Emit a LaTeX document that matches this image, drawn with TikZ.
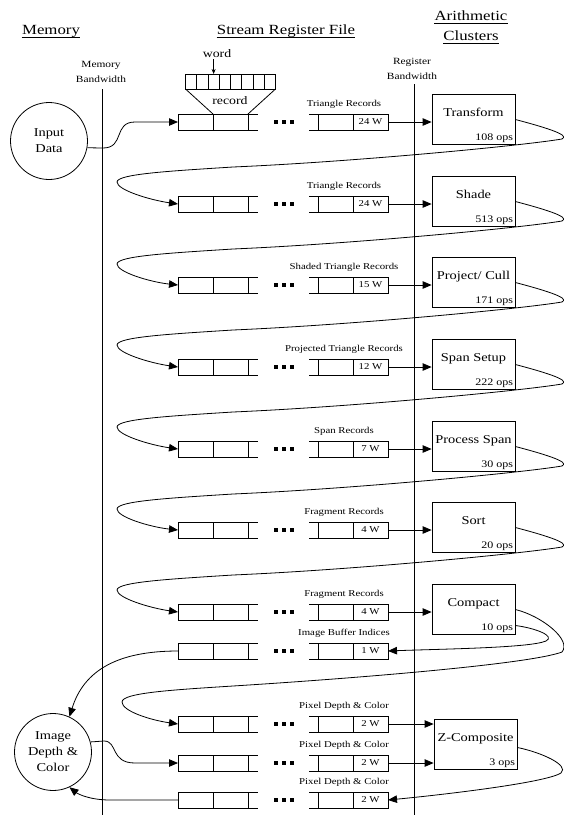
\documentclass[tikz,border=0pt]{standalone}
\usepackage{fontspec}
\setmainfont{Liberation Serif}[FakeStretch=1.2]
\usetikzlibrary{arrows.meta, positioning, calc}

\begin{document}
\begin{tikzpicture}[x=1pt, y=-1pt, line width=0.8pt,
          head/.style={font=\fontsize{14}{16}\selectfont, inner sep=0pt, anchor=base},
          bwlabel/.style={font=\fontsize{9.5}{15}\selectfont, align=center, inner sep=0pt},
          cell/.style={draw, minimum width=35pt, minimum height=16pt, inner sep=0pt, outer sep=0pt,
                       font=\fontsize{9}{10}\selectfont},
          wordcell/.style={draw, minimum width=11.25pt, minimum height=15pt, inner sep=0pt, outer sep=0pt},
          qlabel/.style={font=\fontsize{9}{10}\selectfont, inner sep=0pt},
          unit/.style={draw, minimum width=83pt, minimum height=50pt, inner sep=0pt, text depth=14pt,
                       font=\fontsize{12}{14}\selectfont},
          ops/.style={anchor=south east, inner sep=2pt, font=\fontsize{10}{12}\selectfont},
          store/.style={draw, circle, minimum size=77pt, inner sep=0pt, align=center,
                        font=\fontsize{12}{16}\selectfont},
          arr/.style={-{Triangle[length=9pt, width=7.5pt]}},
        ]
        \useasboundingbox (0,0) rectangle (563,815);

        % headings
        \node[head] (hmem)  at (51,34)  {Memory};
        \node[head] (hsrf)  at (286,34) {Stream Register File};
        \node[head] (harit) at (471,20) {Arithmetic};
        \node[head] (hclus) at (471,40) {Clusters};
        \foreach \h in {hmem, hsrf, harit, hclus}
          \draw[line width=0.7pt] ([yshift=-3pt]\h.base west) -- ([yshift=-3pt]\h.base east);

        % bandwidth dividers
        \node[bwlabel] (mbw) at (101,72) {Memory\\Bandwidth};
        \node[bwlabel] (rbw) at (412,69) {Register\\Bandwidth};
        \coordinate (mtop) at (102,89);  \coordinate (mbot) at (102,815);
        \coordinate (rtop) at (414,84);  \coordinate (rbot) at (414,815);
        \draw (mtop) -- (mbot);
        \draw (rtop) -- (rbot);

        % stream buffers
        \foreach \y/\lab/\w [count=\i] in {122/Triangle Records/24, 204/Triangle Records/24,
            285/Shaded Triangle Records/15, 367/Projected Triangle Records/12, 449/Span Records/7,
            530/Fragment Records/4, 612/Fragment Records/4, 651/Image Buffer Indices/1,
            724/Pixel Depth \& Color/2, 763/Pixel Depth \& Color/2, 800/Pixel Depth \& Color/2} {
          \node[cell] (qa\i) at (195.5,\y) {};
          \node[cell, right=0pt of qa\i] (qb\i) {};
          \node[cell] (qc\i) at (335.5,\y) {};
          \node[cell, right=0pt of qc\i] (qd\i) {\w\ W};
          \node[qlabel] (ql\i) at (344,\y-18) {\lab};
          \draw (qb\i.north east) -- ++(10,0) (qb\i.south east) -- ++(10,0);
          \draw (qc\i.north west) -- ++(-9,0) (qc\i.south west) -- ++(-9,0);
          \foreach \dx in {-8,0,8}
            \fill (284+\dx-2.2,\y-2.2) rectangle ++(4.4,4.4);
        }

        % word / record
        \foreach \k in {1,...,8}
          \node[wordcell] (wc\k) at (185.5+11.25*\k-5.625,81.5) {};
        \draw (wc1.south west) -- (qb1.north west);
        \draw (wc8.south east) -- (qb1.north east);
        \node[font=\fontsize{11.5}{12}\selectfont] (reclbl) at (230,101) {record};
        \node[font=\fontsize{11.5}{12}\selectfont, inner sep=1pt] (wordlbl) at (217,54) {word};
        \draw[-{Stealth[length=5pt, width=4pt]}, line width=0.6pt] (wc3 |- wordlbl.south) -- (wc3.north);

        % arithmetic clusters
        \foreach \y/\name/\ops [count=\i] in {122/Transform/108, 204/Shade/513, 285/{Project/ Cull}/171,
            367/Span Setup/222, 449/Process Span/30, 530/Sort/20, 612/Compact/10} {
          \node[unit] (u\i) at (473.5,\y-2.5) {\name};
          \node[ops] (o\i) at (u\i.south east) {\ops\ ops};
          \draw[arr] (qd\i.east) -- (qd\i.east -| u\i.west);
        }
        \node[unit] (z) at (475.5,744.5) {Z-Composite};
        \node[ops] (oz) at (z.south east) {3 ops};
        \draw[arr] (qd9.east) -- (qd9.east -| z.west);
        \draw[arr] (qd10.east) -- (qd10.east -| z.west);

        % memory
        \node[store] (inp) at (49,141) {Input\\Data};
        \node[store] (img) at (53,752) {Image\\Depth \&\\Color};

        \draw[arr] (inp.-10) -- (103,148) .. controls (125,148) and (113,122) .. (135,122) -- (qa1.west);
        \draw[arr] (qa8.west) .. controls (118,651) and (84,670) .. (img.65);
        \draw[arr] (img.15) -- (104,741) .. controls (118,741) and (110,763) .. (135,763) -- (qa10.west);
        \draw[arr] (qa11.west) -- (110,800) .. controls (90,800) and (78,794) .. (img.-65);

        % kernel to kernel
        \foreach \i/\j/\y in {1/2/122, 2/3/204, 3/4/285, 4/5/367, 5/6/449, 6/7/530}
          \draw[arr] (u\i.east) .. controls (540,\y+4) and (572,\y+13) .. (562,\y+17)
                .. controls (520,\y+24) and (350,\y+40) .. (233,\y+45)
                .. controls (170,\y+49) and (117,\y+52) .. (117,\y+60)
                .. controls (117,\y+68) and (150,\y+78) .. (qa\j.west);
        \draw[arr] (u7.east) .. controls (542,616) and (572,640) .. (562,652)
                .. controls (530,664) and (360,678) .. (233,686)
                .. controls (170,690) and (122,693) .. (122,702)
                .. controls (122,711) and (150,720) .. (qa9.west);
        \draw[arr] ([yshift=-16pt]u7.east) .. controls (535,628) and (556,636) .. (546,641)
                .. controls (530,648) and (440,649) .. (qd8.east);
        \draw[arr] ([yshift=-3pt]z.east) .. controls (540,752) and (570,765) .. (561,773)
                .. controls (545,783) and (440,795) .. (qd11.east);
      \end{tikzpicture}
\end{document}
